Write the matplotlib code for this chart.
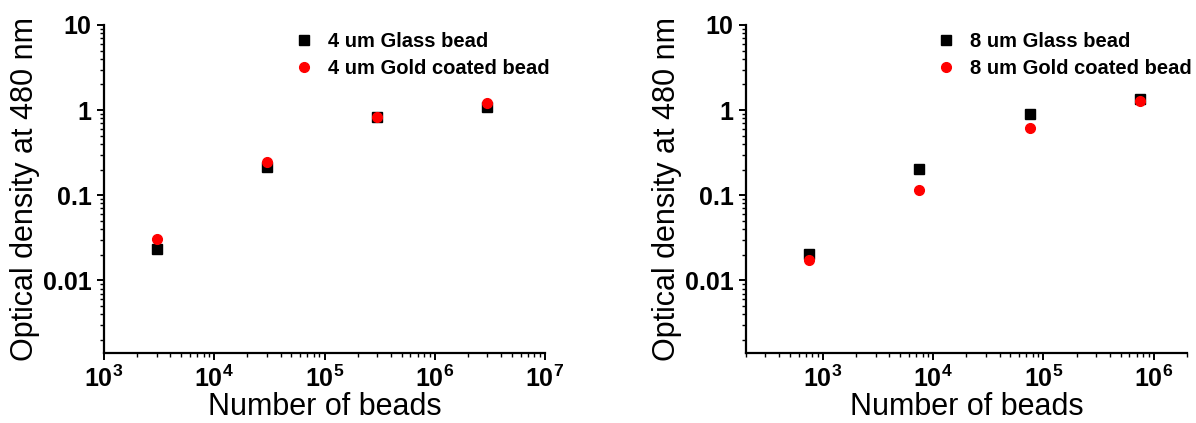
import numpy as np
import matplotlib
matplotlib.use("Agg")
import matplotlib.pyplot as plt
from matplotlib.ticker import LogLocator, FixedLocator, FixedFormatter, NullFormatter

plt.rcParams["font.family"] = ["Liberation Sans", "DejaVu Sans"]
plt.rcParams["mathtext.fontset"] = "custom"
plt.rcParams["mathtext.rm"] = "Liberation Sans:bold"
plt.rcParams["mathtext.bf"] = "Liberation Sans:bold"

# ------------------------------------------------------------
# DATA
# ------------------------------------------------------------
beads_4um = [3e3, 3e4, 3e5, 3e6]
glass_4um = [0.0236, 0.216, 0.836, 1.09]
gold_4um = [0.031, 0.243, 0.84, 1.22]

beads_8um = [750, 7500, 75000, 750000]
glass_8um = [0.0206, 0.206, 0.897, 1.36]
gold_8um = [0.0175, 0.1145, 0.608, 1.28]

y_ticks = [0.01, 0.1, 1, 10]
y_ticklabels = ["0.01", "0.1", "1", "10"]

left_xticks = [1e3, 1e4, 1e5, 1e6, 1e7]
right_xticks = [1e3, 1e4, 1e5, 1e6]

# ------------------------------------------------------------
# FIGURE
# ------------------------------------------------------------
fig = plt.figure(figsize=(11.96, 4.23), dpi=100)
ax1 = fig.add_axes([0.087, 0.1655, 0.3687, 0.7754])
ax2 = fig.add_axes([0.6237, 0.1655, 0.3687, 0.7754])


def style_axis(ax, xlim, xticks):
    ax.set_xscale("log")
    ax.set_yscale("log")
    ax.set_xlim(*xlim)
    ax.set_ylim(0.0014, 10)
    for s in ["top", "right"]:
        ax.spines[s].set_visible(False)
    for s in ["left", "bottom"]:
        ax.spines[s].set_linewidth(1.6)
    ax.xaxis.set_major_locator(FixedLocator(xticks))
    ax.xaxis.set_major_formatter(FixedFormatter(
        [r"$\mathbf{10^{%d}}$" % int(np.log10(t)) for t in xticks]))
    ax.xaxis.set_minor_locator(LogLocator(base=10, subs=np.arange(2, 10), numticks=20))
    ax.xaxis.set_minor_formatter(NullFormatter())
    ax.yaxis.set_major_locator(FixedLocator(y_ticks))
    ax.yaxis.set_major_formatter(FixedFormatter(y_ticklabels))
    ax.yaxis.set_minor_locator(LogLocator(base=10, subs=np.arange(2, 10), numticks=20))
    ax.yaxis.set_minor_formatter(NullFormatter())
    ax.tick_params(which="major", direction="out", length=5, width=1.4,
                   labelsize=18, pad=4)
    ax.tick_params(which="minor", direction="out", length=3, width=1.0)
    for lbl in ax.get_yticklabels():
        lbl.set_fontweight("bold")
    ax.set_xlabel("Number of beads", fontsize=22, labelpad=0)
    ax.set_ylabel("Optical density at 480 nm", fontsize=22, labelpad=2)
    ax.legend(loc="upper left", bbox_to_anchor=(0.432, 0.978), frameon=False,
              prop={"size": 14.5, "weight": "bold"}, handlelength=0.9,
              handletextpad=0.75, borderpad=0, borderaxespad=0, labelspacing=0.4)


ax1.plot(beads_4um, glass_4um, "s", color="black", markersize=6.5,
         label="4 um Glass bead")
ax1.plot(beads_4um, gold_4um, "o", color="#ff0000", markersize=7,
         label="4 um Gold coated bead")
style_axis(ax1, (1e3, 1e7), left_xticks)

ax2.plot(beads_8um, glass_8um, "s", color="black", markersize=6.5,
         label="8 um Glass bead")
ax2.plot(beads_8um, gold_8um, "o", color="#ff0000", markersize=7,
         label="8 um Gold coated bead")
style_axis(ax2, (200, 2e6), right_xticks)

fig.savefig("out.png", dpi=100)
plt.close(fig)
